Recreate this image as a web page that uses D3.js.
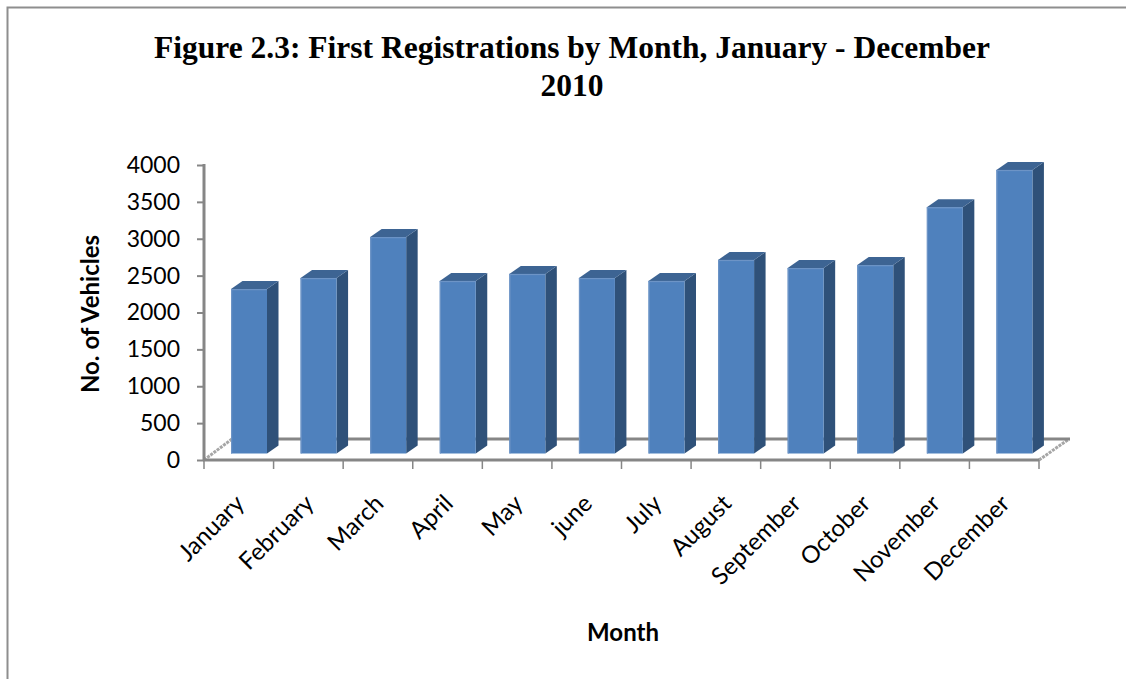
<!DOCTYPE html>
<html><head><meta charset="utf-8">
<script src="https://cdn.jsdelivr.net/npm/d3@7/dist/d3.min.js"></script>
<style>html,body{margin:0;padding:0;background:#fff}svg{display:block}</style>
</head><body><svg id="c" width="1126" height="679"></svg>
<script>
const months = ["January","February","March","April","May","june","July","August","September","October","November","December"];
const vehicles = [2230,2380,2935,2340,2435,2380,2340,2625,2515,2555,3340,3845];
const yTicks = [0,500,1000,1500,2000,2500,3000,3500,4000];
const titleLines = ["Figure 2.3: First Registrations by Month, January - December","2010"];

const svg = d3.select("#c");
const sans = "Lato, 'Open Sans', sans-serif";
const grey = "#868686";
const L=204, R=1039, T=165, B=460;
const dx=28, dy=21;          // floor depth
const bx=11.5, by=8;         // bar depth
const floorInset=6.5;        // bar foot sits inside the floor
const x = d3.scaleBand().domain(months).range([L,R]);
const y = d3.scaleLinear().domain([0,4000]).range([B,T]);
const barOffset=27, barW=36;

// outer border
svg.append("path").attr("d","M7.5,679V7.5H1126").attr("fill","none").attr("stroke","#8e8e8e").attr("stroke-width",2);

// title
svg.append("g").selectAll("text").data(titleLines).join("text")
  .attr("x",572).attr("y",(d,i)=>58+i*38).attr("text-anchor","middle")
  .attr("font-family","'Liberation Serif',serif").attr("font-weight","bold").attr("font-size",31.5)
  .attr("fill","#000").text(d=>d);

// floor
svg.append("path").attr("d",`M${L},${B}L${L+dx},${B-dy}`).attr("stroke","#a6a6a6").attr("stroke-width",3).attr("stroke-dasharray","3 1");
svg.append("path").attr("d",`M${R},${B}L${R+dx+2},${B-dy}`).attr("stroke","#a6a6a6").attr("stroke-width",3).attr("stroke-dasharray","3 1");
svg.append("path").attr("d",`M${L+dx},${B-dy}H${R+dx+3}`).attr("stroke",grey).attr("stroke-width",3);

// axes
const gy = svg.append("g").attr("transform",`translate(${L},0)`)
  .call(d3.axisLeft(y).tickValues(yTicks).tickSize(7).tickPadding(17).tickFormat(d3.format("d")));
const gx = svg.append("g").attr("transform",`translate(0,${B})`)
  .call(d3.axisBottom(x).tickSize(0).tickFormat(""));
gx.selectAll(".tick").remove();
gx.selectAll(".bt").data(x.domain().map(m=>x(m)).concat([R])).join("line")
  .attr("x1",d=>d).attr("x2",d=>d).attr("y1",0).attr("y2",9).attr("stroke",grey).attr("stroke-width",1.5);
[gx,gy].forEach(g=>g.select(".domain").attr("stroke",grey).attr("stroke-width",3));
gy.selectAll(".tick line").attr("stroke",grey).attr("stroke-width",2);
gy.selectAll("text").attr("font-family",sans).attr("font-size",23).attr("fill","#000");
gy.select(".domain").attr("d",`M0,${T-1}V${B+1}`);
gx.select(".domain").attr("d",`M${L-1},0H${R}`);

// bars
const barH = v => y(0)-y(v);
const foot = B-floorInset;
const bars = svg.append("g").selectAll("g").data(months.map((m,i)=>({m,v:vehicles[i]}))).join("g")
  .attr("transform",d=>`translate(${x(d.m)+barOffset},0)`);
bars.append("path").attr("fill","#2f5179")   // side
  .attr("d",d=>`M${barW},${foot-barH(d.v)}l${bx},${-by}V${foot-by}l${-bx},${by}Z`);
bars.append("path").attr("fill","#3d6493")   // top
  .attr("d",d=>`M0,${foot-barH(d.v)}l${bx},${-by}h${barW}l${-bx},${by}Z`);
bars.append("rect").attr("fill","#4f81bd")   // front
  .attr("x",0).attr("width",barW).attr("y",d=>foot-barH(d.v)).attr("height",d=>barH(d.v));
bars.append("rect").attr("fill","#6d94c6")   // lit edge
  .attr("x",0).attr("width",barW).attr("y",d=>foot-barH(d.v)).attr("height",1.2);
bars.append("rect").attr("fill","#6d94c6")
  .attr("x",0).attr("width",1.2).attr("y",d=>foot-barH(d.v)).attr("height",d=>barH(d.v));

// month labels
svg.append("g").selectAll("text").data(months).join("text")
  .attr("transform",d=>`translate(${x(d)+x.bandwidth()/2+7},505) rotate(-45)`)
  .attr("text-anchor","end").attr("font-family",sans).attr("font-size",24).attr("fill","#000").text(d=>d);

// axis titles
svg.append("text").attr("transform","translate(99,314) rotate(-90)").attr("text-anchor","middle")
  .attr("font-family",sans).attr("font-weight","bold").attr("font-size",24).text("No. of Vehicles");
svg.append("text").attr("x",623).attr("y",641).attr("text-anchor","middle")
  .attr("font-family",sans).attr("font-weight","bold").attr("font-size",24).text("Month");
</script></body></html>
